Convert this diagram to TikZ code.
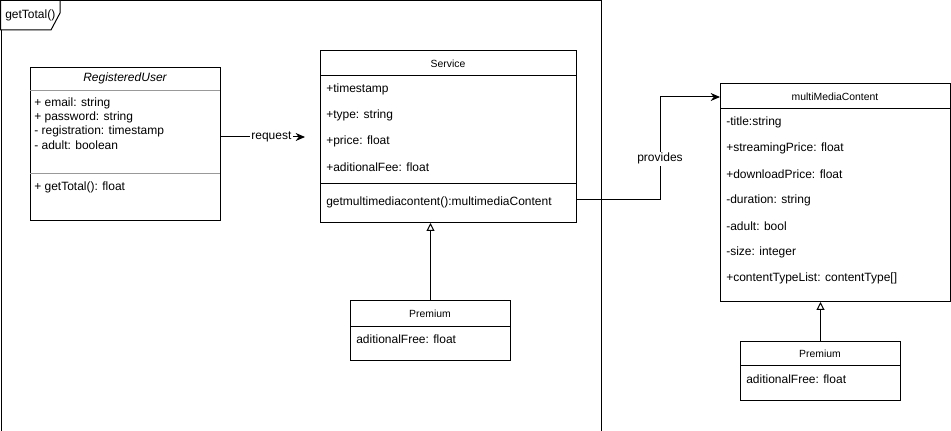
\documentclass[tikz,border=0pt]{standalone}
\usepackage{fontspec}
\setmainfont{Liberation Sans}
\usetikzlibrary{arrows.meta}
\begin{document}
\begin{tikzpicture}[x=0.75pt,y=-0.75pt,
  box/.style={draw=black,line width=0.75pt,fill=white,anchor=north west,inner sep=0pt},
  attr/.style={anchor=west,inner sep=0pt,font=\fontsize{9}{11}\selectfont},
  hdr/.style={anchor=center,inner sep=0pt,font=\fontsize{7.8}{9}\selectfont},
  sep/.style={line width=0.75pt},
  gsep/.style={line width=0.75pt,draw=black!40},
  conn/.style={line width=0.75pt,-{Stealth[length=7pt,width=6pt]}},
  inh/.style={line width=0.75pt,-{Triangle[open,length=6pt,width=6pt]}},
  lbl/.style={inner sep=1pt,fill=white,font=\fontsize{9}{11}\selectfont}]
\useasboundingbox[fill=white] (0,0) rectangle (951,431);
% frame
\node[box,minimum width=600*0.75pt,minimum height=430*0.75pt] (frame) at (0.5,0.5) {};
\draw[line width=0.75pt,fill=white] (0.5,0.5) -- (60,0.5) -- (60,13) -- (51,30) -- (0.5,30) -- cycle;
\node[attr] (ftitle) at (5,15) {getTotal()};
% RegisteredUser
\node[box,minimum width=190*0.75pt,minimum height=153*0.75pt] (ru) at (30,67) {};
\node[anchor=center,inner sep=0pt,font=\fontsize{9}{11}\selectfont\itshape] (ruh) at (125,78) {RegisteredUser};
\draw[gsep] (30,91) -- (220,91);
\node[attr] (ru1) at (34,103) {+ email: string};
\node[attr] (ru2) at (34,117) {+ password: string};
\node[attr] (ru3) at (34,131) {- registration: timestamp};
\node[attr] (ru4) at (34,145) {- adult: boolean};
\draw[gsep] (30,174) -- (220,174);
\node[attr] (ru5) at (34,187) {+ getTotal(): float};
% Service
\node[box,minimum width=256*0.75pt,minimum height=172*0.75pt] (srv) at (320,50) {};
\node[hdr] (srvh) at (448,64) {Service};
\draw[sep] (320,76) -- (576,76);
\node[attr] (s1) at (326,89) {+timestamp};
\node[attr] (s2) at (326,115) {+type: string};
\node[attr] (s3) at (326,141) {+price: float};
\node[attr] (s4) at (326,167) {+aditionalFee: float};
\draw[sep] (320,184) -- (576,184);
\node[attr] (s5) at (326,202) {getmultimediacontent():multimediaContent};
% multiMediaContent
\node[box,minimum width=230*0.75pt,minimum height=218*0.75pt] (mmc) at (720,83) {};
\node[hdr] (mmch) at (835,97) {multiMediaContent};
\draw[sep] (720,109) -- (950,109);
\node[attr] (m1) at (726,122) {-title:string};
\node[attr] (m2) at (726,148) {+streamingPrice: float};
\node[attr] (m3) at (726,174) {+downloadPrice: float};
\node[attr] (m4) at (726,200) {-duration: string};
\node[attr] (m5) at (726,226) {-adult: bool};
\node[attr] (m6) at (726,252) {-size: integer};
\node[attr] (m7) at (726,278) {+contentTypeList: contentType[]};
% Premium 1
\node[box,minimum width=160*0.75pt,minimum height=60*0.75pt] (p1) at (350,300) {};
\node[hdr] (p1h) at (430,314) {Premium};
\draw[sep] (350,327) -- (510,327);
\node[attr] (p1a) at (356,339) {aditionalFree: float};
% Premium 2
\node[box,minimum width=160*0.75pt,minimum height=59*0.75pt] (p2) at (740,341) {};
\node[hdr] (p2h) at (820,354) {Premium};
\draw[sep] (740,366) -- (900,366);
\node[attr] (p2a) at (746,379) {aditionalFree: float};
% connectors
\coordinate (reqend) at (305,137);
\draw[conn] (ru.east |- reqend) -- node[lbl,pos=0.6] (reqlbl) {request} (reqend);
\coordinate (bend1) at (660,200);
\coordinate (bend2) at (660,97);
\draw[conn] (srv.east |- bend1) -- (bend1) -- node[lbl,pos=0.4] (provlbl) {provides} (bend2) -- (mmc.west |- bend2);
\draw[inh] (p1.north) -- (srv.south -| p1.north);
\draw[inh] (p2.north) -- (mmc.south -| p2.north);
\end{tikzpicture}
\end{document}
